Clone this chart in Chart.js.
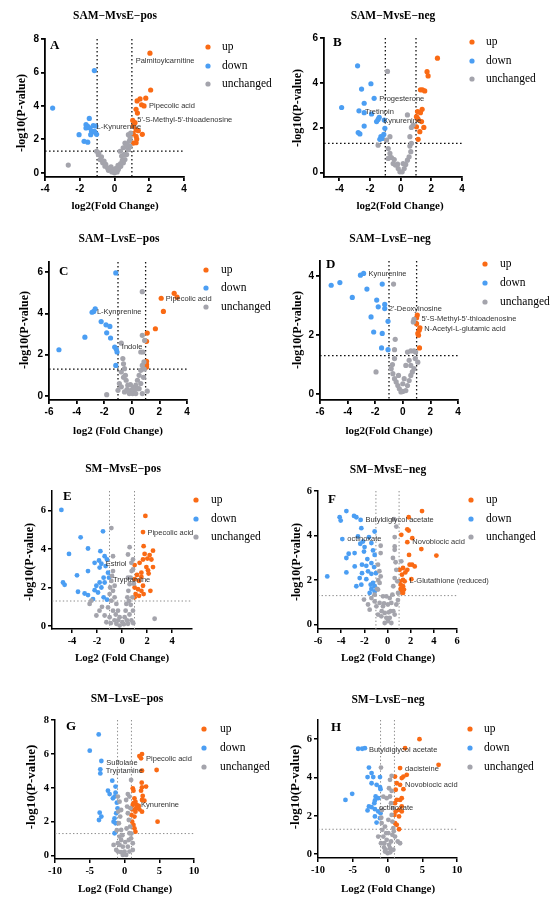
<!DOCTYPE html>
<html>
<head>
<meta charset="utf-8">
<script src="https://cdn.jsdelivr.net/npm/chart.js@4.4.1/dist/chart.umd.min.js"></script>
<style>
html, body { margin: 0; padding: 0; background: #fff; }
#wrap { position: relative; width: 550px; height: 905px; overflow: hidden; }
#wrap canvas { position: absolute; }
</style>
</head>
<body>
<div id="wrap"></div>
<script>
'use strict';

// ---- data: [log2 fold change, -log10 p] pairs ----
const A_UP = [[2.04,7.15],[2.08,4.95],[1.8,4.46],[1.47,4.42],[1.3,4.3],[1.56,4.07],[1.7,4.0],[1.24,3.8],[1.32,3.57],[1.05,3.13],[1.18,3.0],[1.08,2.8],[1.24,2.58],[1.37,2.52],[1.08,2.34],[1.24,2.18],[1.6,2.3],[1.28,2.02],[1.08,1.78],[1.24,1.8]];
const A_DOWN = [[-1.16,6.11],[-3.56,3.87],[-1.45,3.25],[-1.64,2.88],[-1.54,2.78],[-1.64,2.68],[-1.41,2.68],[-1.22,2.82],[-1.07,2.8],[-1.32,2.48],[-1.16,2.48],[-1.37,2.28],[-2.04,2.28],[-1.75,1.88],[-1.54,1.83],[-1.03,2.3],[-1.12,2.42]];
const A_NC = [[-2.66,0.46],[-1.03,1.29],[-0.93,1.09],[-0.83,0.79],[-0.68,0.6],[-0.55,0.4],[-0.41,0.3],[-0.26,0.2],[-0.07,0.1],[0.09,0.1],[0.22,0.2],[0.36,0.4],[0.51,0.6],[0.6,0.79],[0.7,1.09],[0.8,1.39],[0.89,1.59],[0.6,1.78],[0.8,2.28],[0.93,2.38],[0.5,1.5],[0.32,1.29],[0.41,1.0],[-0.35,0.15],[-0.15,0.05],[0.0,0.0],[0.15,0.05],[0.28,0.35],[-0.5,0.5],[-0.6,0.7],[0.45,0.75],[0.55,1.1],[0.65,1.55],[0.72,1.7],[0.85,1.9],[0.9,2.1],[-0.2,0.35],[0.05,0.25],[-0.75,0.95],[-0.9,1.2],[0.35,0.55],[0.2,0.45]];
const A_LABELS = [['Palmitoylcarnitine',1.22,6.7],['Pipecolic acid',1.99,3.97],["5'-S-Methyl-5'-thioadenosine",1.31,3.17],['L-Kynurenine',-1.03,2.72]];
const A_XTICKS = [-4,-2,0,2,4];
const A_YTICKS = [0,2,4,6,8];

const B_UP = [[2.4,5.1],[1.72,4.5],[1.79,4.31],[1.29,3.69],[1.42,3.69],[1.57,3.64],[1.1,2.72],[1.4,2.82],[1.29,2.67],[1.03,2.49],[1.14,2.37],[1.36,2.27],[1.03,2.04],[1.51,2.01],[1.25,1.82],[1.14,1.48],[1.1,2.42]];
const B_DOWN = [[-2.81,4.76],[-1.94,3.96],[-2.55,3.72],[-1.73,3.31],[-2.38,3.09],[-3.85,2.9],[-2.72,2.75],[-2.38,2.67],[-1.9,2.61],[-1.4,2.46],[-1.47,2.37],[-1.57,2.27],[-1.07,2.34],[-1.03,1.97],[-2.38,2.07],[-2.77,1.78],[-2.66,1.72],[-1.29,1.6],[-1.2,1.52],[-1.36,1.48],[-1.1,1.7]];
const B_NC = [[-0.86,4.51],[0.44,2.57],[-1.47,1.22],[-0.81,1.07],[-0.7,0.85],[-0.6,0.67],[-0.81,0.63],[-0.49,0.4],[-0.34,0.33],[-0.16,0.18],[-0.05,0.03],[0.1,0.03],[0.23,0.18],[0.33,0.36],[0.16,0.4],[0.44,0.55],[0.55,0.7],[0.66,0.93],[0.6,1.18],[0.7,1.3],[0.6,1.6],[0.7,2.01],[0.81,2.12],[-0.2,0.37],[-0.42,0.58],[-0.92,1.45],[-0.7,1.6]];
const B_LABELS = [['Progesterone',-1.4,3.28],['Tretinoin',-2.33,2.7],['Kynurenine',-1.14,2.31]];
const B_XTICKS = [-4,-2,0,2,4];
const B_YTICKS = [0,2,4,6];

const C_UP = [[3.07,4.98],[3.28,4.79],[2.13,4.74],[2.29,4.1],[1.71,3.26],[1.12,3.05],[1.07,2.65],[1.07,1.68],[1.07,1.52],[1.07,1.4]];
const C_DOWN = [[-1.16,5.97],[-2.65,4.23],[-2.76,4.1],[-2.88,4.06],[-2.22,3.61],[-1.87,3.45],[-1.59,3.37],[-1.82,3.06],[-3.4,2.85],[-1.54,2.81],[-5.28,2.24],[-1.24,2.37],[-1.12,2.26],[-1.07,2.13],[-1.16,1.48]];
const C_NC = [[0.76,5.06],[0.76,2.94],[0.93,2.69],[0.65,2.13],[0.81,2.13],[-0.76,2.56],[-1.82,0.06],[-0.65,1.81],[-0.6,1.56],[-0.53,1.32],[-0.76,1.16],[-0.46,1.0],[-0.41,0.76],[-1.0,0.27],[-0.29,0.52],[-0.06,0.27],[0.18,0.27],[0.29,0.52],[0.41,0.76],[0.53,1.0],[0.65,1.24],[0.76,1.48],[0.88,1.65],[1.12,0.23],[-0.18,0.11],[0.06,0.11],[0.29,0.11],[-0.53,0.19],[-0.76,0.44],[0.53,0.35],[0.76,0.11],[-0.9,0.6],[-0.35,0.3],[0.4,0.35],[0.65,0.6],[0.85,0.9],[0.9,1.3],[-0.6,0.9],[0.1,0.4],[-0.1,0.55]];
const C_LABELS = [['Pipecolic acid',2.46,4.73],['L-Kynurenine',-2.53,4.06],['Indole',-0.72,2.37]];
const C_XTICKS = [-6,-4,-2,0,2,4];
const C_YTICKS = [0,2,4,6];

const D_UP = [[1.05,2.67],[1.0,2.58],[1.0,2.38],[1.24,2.24],[1.19,2.16],[1.09,2.05],[1.14,1.99],[1.21,1.56]];
const D_DOWN = [[-2.84,4.08],[-3.07,4.02],[-5.19,3.68],[-4.56,3.77],[-1.49,3.72],[-3.66,3.27],[-2.6,3.55],[-1.89,3.18],[-1.31,3.03],[-1.78,2.95],[-1.31,2.89],[-2.3,2.61],[-1.07,2.46],[-2.11,2.1],[-1.49,2.05],[-1.54,1.56],[-1.07,1.5]];
const D_NC = [[-0.67,3.72],[0.81,2.53],[0.76,2.44],[-0.55,1.85],[-1.94,0.75],[-0.6,1.5],[-0.6,1.2],[0.34,1.42],[0.58,1.46],[0.81,1.46],[0.93,1.42],[1.09,1.08],[0.46,1.14],[0.22,0.97],[-0.84,0.86],[-0.72,0.69],[-0.6,0.52],[-0.48,0.41],[-0.36,0.29],[-0.25,0.18],[0,0.09],[0.22,0.12],[0.34,0.29],[0.46,0.46],[0.58,0.63],[0.69,0.75],[0.81,0.86],[0.1,0.52],[-0.31,0.63],[0.58,0.97],[0,0.35],[-0.13,0.07],[0.9,1.2],[-0.75,1.0]];
const D_LABELS = [['Kynurenine',-2.48,4.06],["2'-Deoxyinosine",-1.02,2.87],["5'-S-Methyl-5'-thioadenosine",1.35,2.55],['N-Acetyl-L-glutamic acid',1.56,2.19]];
const D_XTICKS = [-6,-4,-2,0,2,4];
const D_YTICKS = [0,2,4];

const E_UP = [[1.87,5.71],[1.68,4.87],[1.73,4.14],[2.48,3.91],[1.81,3.74],[2.21,3.68],[2.35,3.45],[2.03,3.5],[1.68,3.45],[1.41,3.28],[1.01,3.16],[2.48,3.06],[1.95,3.06],[2.08,2.89],[1.55,2.77],[2.13,2.72],[1.2,2.65],[1.55,2.55],[1.01,2.43],[1.36,2.34],[1.68,2.09],[1.01,2.0],[1.28,1.91],[1.55,1.83],[2.27,1.83],[1.09,1.66],[1.73,1.66],[1.01,1.49],[1.36,1.57]];
const E_DOWN = [[-4.85,6.02],[-1.52,4.91],[-3.31,4.6],[-2.72,4.02],[-4.24,3.74],[-1.73,3.88],[-1.39,3.62],[-1.2,3.45],[-1.84,3.4],[-2.19,3.28],[-1.65,3.23],[-1.31,3.11],[-1.79,3.03],[-2.72,2.85],[-3.6,2.63],[-1.12,2.77],[-1.47,2.51],[-1.04,2.51],[-1.79,2.26],[-1.39,2.26],[-4.72,2.26],[-4.59,2.14],[-2.05,2.09],[-1.65,2.0],[-2.19,1.86],[-1.92,1.74],[-3.52,1.78],[-2.99,1.69],[-2.72,1.61],[-1.47,1.49],[-1.2,1.37],[-2.32,1.4]];
const E_NC = [[-0.85,5.08],[0.61,4.09],[-0.72,3.62],[0.48,3.71],[0.75,3.28],[0.88,3.45],[2.61,0.38],[-2.05,0.55],[-2.59,1.15],[-2.45,1.32],[-1.39,0.55],[-1.25,0.2],[-0.72,2.85],[-0.85,2.34],[-0.72,1.83],[-0.59,1.49],[-0.45,1.15],[-0.32,0.8],[-0.19,0.46],[0.03,0.2],[0.21,0.46],[0.29,0.8],[0.35,1.15],[0.43,1.49],[0.51,1.83],[0.61,2.17],[0.69,2.51],[0.77,2.85],[0.88,2.94],[0.83,1.49],[0.88,0.8],[0.75,0.29],[-0.72,0.8],[-0.85,1.32],[-0.99,0.46],[-0.45,0.12],[0.48,0.12],[-0.19,0.03],[-1.12,0.97],[-0.59,2.09],[0.48,2.51],[-0.99,1.66],[-0.6,0.3],[0.15,0.1],[0.6,0.6],[0.7,1.1],[-0.3,0.3],[0.4,0.3],[-0.9,0.15],[0.9,0.15],[-0.5,0.6],[0.55,1.3],[-0.95,2.0],[-0.8,2.6],[0.95,2.2],[-1.6,1.0],[-1.8,0.8]];
const E_LABELS = [['Pipecolic acid',2.03,4.84],['Estriol',-1.31,3.23],['Tryptamine',-0.72,2.39]];
const E_XTICKS = [-4,-2,0,2,4];
const E_YTICKS = [0,2,4,6];

const F_UP = [[2.98,5.1],[1.83,4.82],[1.71,4.28],[1.83,4.22],[1.19,4.03],[2.14,3.88],[1.71,3.7],[2.92,3.39],[4.22,3.1],[1.86,3.13],[1.91,2.69],[2.12,2.69],[2.35,2.61],[1.34,2.54],[1.71,2.46],[1.05,2.46],[1.54,2.34],[1.25,2.24],[1.34,2.01],[1.05,1.94],[1.48,1.94],[2.06,2.04],[1.14,1.79],[1.34,1.72],[1.14,1.6],[1.42,1.57],[1.14,1.45],[1.34,1.42]];
const F_DOWN = [[-3.55,5.1],[-4.13,4.82],[-4.04,4.67],[-2.89,4.88],[-2.69,4.82],[-2.32,4.7],[-2.26,4.33],[-1.11,4.18],[-2.55,3.96],[-3.9,3.84],[-1.6,3.93],[-2.12,3.73],[-2.35,3.63],[-1.39,3.66],[-1.98,3.48],[-2.84,3.21],[-3.35,3.18],[-2.03,3.28],[-1.25,3.33],[-1.11,3.13],[-3.55,2.99],[-1.74,2.94],[-2.83,2.61],[-2.2,2.69],[-1.39,2.76],[-1.83,2.64],[-1.16,2.58],[-3.55,2.34],[-2.2,2.31],[-1.68,2.39],[-1.39,2.28],[-1.0,2.31],[-5.2,2.16],[-2.4,2.09],[-1.83,2.04],[-1.25,1.87],[-1.45,1.79],[-2.69,1.72],[-2.26,1.79],[-1.11,1.72],[-1.39,1.6],[-1.54,1.42],[-1.11,1.49]];
const F_NC = [[0.56,4.73],[0.76,4.4],[0.62,3.93],[-0.59,3.54],[0.62,3.51],[0.62,3.36],[-0.59,3.21],[0.47,2.99],[-0.82,2.69],[-2.03,1.12],[-1.68,0.9],[-1.54,0.67],[-0.82,0.45],[-1.39,1.19],[-1.11,1.34],[-0.82,1.57],[-0.68,1.87],[-0.59,2.16],[-0.39,1.27],[-0.39,0.82],[-0.24,0.52],[-0.1,0.3],[0.04,0.15],[0.19,0.3],[0.27,0.6],[0.33,0.97],[0.42,1.34],[0.5,1.72],[0.62,2.09],[0.76,2.46],[0.85,1.94],[0.91,1.42],[0.76,0.9],[0.62,0.45],[0.33,0.07],[-0.24,0.07],[-0.53,0.37],[-0.68,0.97],[-0.96,0.82],[-1.11,1.04],[-0.1,1.27],[0.04,0.9],[0.19,1.19],[1.19,2.84],[-0.5,0.6],[0.5,0.6],[-0.8,2.0],[0.7,2.8],[-0.7,2.4],[0.9,1.1],[-0.9,1.6],[0.1,0.55],[-0.3,0.95]];
const F_LABELS = [['Butyldiglycol acetate',-1.91,4.7],['octinoxate',-3.47,3.84],['Novobiocic acid',2.14,3.69],['L-Glutathione (reduced)',1.91,1.97]];
const F_XTICKS = [-6,-4,-2,0,2,4,6];
const F_YTICKS = [0,2,4,6];

const G_UP = [[2.52,5.99],[2.14,5.87],[2.38,5.74],[4.62,5.05],[2.52,5.01],[2.48,4.3],[3.1,4.07],[2.52,4.03],[1.19,3.97],[1.29,3.83],[2.38,3.83],[2.62,3.52],[1.43,3.38],[2.52,3.28],[2.86,3.24],[1.57,3.18],[1.19,2.99],[1.76,2.99],[2.05,2.93],[1.67,2.79],[2.14,2.73],[1.1,2.73],[2.52,2.59],[1.57,2.59],[1.0,2.4],[1.43,2.3],[4.76,2.0],[1.1,2.0],[1.29,1.81],[1.43,1.61],[1.57,1.41],[1.9,2.85],[1.3,3.1]];
const G_DOWN = [[-3.71,7.15],[-5.0,6.19],[-3.33,5.58],[-3.48,5.09],[-3.48,4.85],[-1.76,4.42],[-1.29,4.07],[-2.38,3.83],[-2.14,3.63],[-1.43,3.48],[-1.29,3.71],[-1.67,3.38],[-1.1,3.12],[-1.0,2.79],[-3.57,2.53],[-1.19,2.5],[-3.33,2.3],[-3.67,2.1],[-1.43,2.2],[-1.57,2.0],[-1.29,1.91],[-1.43,1.32]];
const G_NC = [[0.95,4.46],[0.48,3.63],[0.71,3.48],[-0.95,3.48],[-0.71,3.18],[-0.48,2.69],[-0.62,2.3],[-0.81,1.91],[-0.48,1.51],[-0.71,1.12],[-0.95,0.73],[-1.19,0.33],[-0.48,0.92],[-0.24,0.53],[0,0.24],[0.24,0.04],[0.48,0.53],[0.62,0.92],[0.71,1.32],[0.81,1.71],[0.62,2.1],[0.48,2.5],[0.38,2.89],[0.24,3.28],[0.95,1.02],[1.19,0.73],[-0.95,0.24],[-0.24,0.04],[-1.57,0.63],[1.19,0.33],[-0.71,0.63],[0.71,0.24],[-0.3,1.2],[0.3,1.6],[-0.9,2.6],[0.85,2.8],[-1.1,1.5],[1.0,1.3],[0.1,0.8],[-0.5,0.2]];
const G_LABELS = [['Sulfolane',-2.62,5.48],['Tryptamine',-2.71,5.01],['Pipecolic acid',3.1,5.7],['Kynurenine',2.38,2.99]];
const G_XTICKS = [-10,-5,0,5,10];
const G_YTICKS = [0,2,4,6,8];

const H_UP = [[4.6,6.0],[2.53,5.53],[7.35,4.66],[1.81,4.49],[2.77,4.14],[2.29,4.05],[2.05,3.97],[1.08,4.05],[1.33,3.7],[1.81,3.62],[2.29,3.39],[1.18,3.36],[2.05,2.92],[1.81,2.83],[1.33,2.83],[1.08,2.66],[2.05,2.49],[1.66,2.31],[1.18,2.23],[2.05,2.23],[1.0,2.05],[1.66,1.97],[1.08,1.62],[1.33,1.53],[1.66,1.3]];
const H_DOWN = [[-4.22,5.5],[-3.64,5.5],[-3.25,5.53],[-2.67,4.52],[-2.29,4.23],[-2.87,4.02],[-2.05,4.02],[-1.08,4.02],[-2.29,3.7],[-1.57,3.62],[-1.08,3.5],[-1.0,3.39],[-5.08,3.15],[-6.05,2.83],[-1.71,3.01],[-1.81,2.8],[-1.33,2.92],[-1.9,2.66],[-2.67,2.49],[-2.29,2.45],[-2.87,2.28],[-1.81,2.35],[-1.33,2.23],[-1.0,2.14],[-1.81,1.97],[-1.08,1.88],[-1.57,1.65]];
const H_NC = [[-0.94,4.52],[0.36,3.88],[0.6,4.09],[0.22,3.44],[0.36,3.01],[0.51,2.66],[-0.12,2.92],[-0.84,1.62],[-0.75,1.27],[-0.6,0.92],[-0.46,0.57],[-0.27,0.23],[0.02,0.05],[0.36,0.31],[0.51,0.66],[0.7,1.01],[0.84,1.36],[0.7,1.7],[0.6,2.05],[0.12,1.79],[-0.36,1.44],[-0.12,0.75],[0.22,0.49],[1.47,0.66],[1.81,0.57],[-0.94,0.57],[-1.33,0.92],[0.12,1.1],[-0.36,0.14],[0.84,0.23],[1.08,0.92],[-0.8,2.3],[0.8,2.4],[-0.6,3.0],[0.6,3.3],[-0.9,1.9],[0.9,1.2],[-0.5,0.35],[0.4,0.1],[-0.2,1.1]];
const H_LABELS = [['Butyldiglycol acetate',-2.67,5.44],['dacisteine',2.53,4.47],['Novobiocic acid',2.53,3.63],['octinoxate',-1.23,2.4]];
const H_XTICKS = [-10,-5,0,5,10];
const H_YTICKS = [0,2,4,6];

const SERIES_NAMES = ['up', 'down', 'unchanged'];
const FC_CUT = 1;          // |log2 FC| threshold
const P_CUT = 1.3;         // -log10(0.05)

// ---- look ----
const COLORS = { up: '#FA6A14', down: '#4B9EF3', nc: '#A4A4AC' };
const SANS = "'Liberation Sans', Arial, sans-serif";
const SERIF = "'Liberation Serif', 'Times New Roman', serif";
const Y_AXIS_W = 24;
const X_AXIS_H = 22;

// page layout for each panel (pixels in the 550x905 page)
const PANELS = [
    { letter: 'A', title: 'SAM\u2212MvsE\u2212pos', up: A_UP, down: A_DOWN, nc: A_NC, labels: A_LABELS, xt: A_XTICKS, yt: A_YTICKS,
      xr: [-4, 4], yr: [-0.25, 8], style: 'old',
      box: { x: 0, y: 0, w: 275, h: 215 }, plot: { l: 45, r: 184, t: 39, b: 177 },
      titlePos: [115, 16], letterPos: [54, 46], legend: { mx: 208, tx: 222, ys: [47, 66, 84] },
      xTitle: ['log2(Fold Change)', 115, 206], yTitle: [22, 113, 12] },
    { letter: 'B', title: 'SAM\u2212MvsE\u2212neg', up: B_UP, down: B_DOWN, nc: B_NC, labels: B_LABELS, xt: B_XTICKS, yt: B_YTICKS,
      xr: [-5, 4], yr: [-0.2, 6], style: 'old',
      box: { x: 275, y: 0, w: 275, h: 215 }, plot: { l: 324, r: 462, t: 38, b: 177 },
      titlePos: [393, 16], letterPos: [337, 43], legend: { mx: 472, tx: 486, ys: [42, 61, 79] },
      xTitle: ['log2(Fold Change)', 400, 206], yTitle: [298, 108, 12] },
    { letter: 'C', title: 'SAM\u2212LvsE\u2212pos', up: C_UP, down: C_DOWN, nc: C_NC, labels: C_LABELS, xt: C_XTICKS, yt: C_YTICKS,
      xr: [-6, 4], yr: [-0.2, 6.5], style: 'old',
      box: { x: 0, y: 215, w: 275, h: 230 }, plot: { l: 49, r: 187, t: 262, b: 400 },
      titlePos: [119, 239], letterPos: [63, 272], legend: { mx: 206, tx: 221, ys: [270, 288, 307] },
      xTitle: ['log2 (Fold Change)', 118, 431], yTitle: [25, 330, 12] },
    { letter: 'D', title: 'SAM\u2212LvsE\u2212neg', up: D_UP, down: D_DOWN, nc: D_NC, labels: D_LABELS, xt: D_XTICKS, yt: D_YTICKS,
      xr: [-6, 4], yr: [-0.2, 4.5], style: 'old',
      box: { x: 275, y: 215, w: 275, h: 230 }, plot: { l: 320, r: 458, t: 261, b: 400 },
      titlePos: [390, 239], letterPos: [330, 265], legend: { mx: 485, tx: 500, ys: [264, 283, 302] },
      xTitle: ['log2(Fold Change)', 389, 431], yTitle: [298, 330, 12] },
    { letter: 'E', title: 'SM\u2212MvsE\u2212pos', up: E_UP, down: E_DOWN, nc: E_NC, labels: E_LABELS, xt: E_XTICKS, yt: E_YTICKS,
      xr: [-5.6, 5.6], yr: [-0.15, 7], style: 'new',
      box: { x: 0, y: 445, w: 275, h: 230 }, plot: { l: 52, r: 192, t: 491, b: 629 },
      titlePos: [123, 469], letterPos: [67, 497], legend: { mx: 196, tx: 211, ys: [500, 519, 537] },
      xTitle: ['Log2 (Fold Change)', 122, 658], yTitle: [30, 562, 12] },
    { letter: 'F', title: 'SM\u2212MvsE\u2212neg', up: F_UP, down: F_DOWN, nc: F_NC, labels: F_LABELS, xt: F_XTICKS, yt: F_YTICKS,
      xr: [-6, 6], yr: [-0.2, 6], style: 'new',
      box: { x: 275, y: 445, w: 275, h: 230 }, plot: { l: 318, r: 457, t: 491, b: 629 },
      titlePos: [388, 470], letterPos: [332, 500], legend: { mx: 471, tx: 486, ys: [500, 519, 537] },
      xTitle: ['Log2 (Fold Change)', 388, 658], yTitle: [297, 562, 12] },
    { letter: 'G', title: 'SM\u2212LvsE\u2212pos', up: G_UP, down: G_DOWN, nc: G_NC, labels: G_LABELS, xt: G_XTICKS, yt: G_YTICKS,
      xr: [-10, 10], yr: [-0.2, 8], style: 'new',
      box: { x: 0, y: 675, w: 275, h: 230 }, plot: { l: 55, r: 194, t: 720, b: 859 },
      titlePos: [127, 699], letterPos: [70, 727], legend: { mx: 204, tx: 220, ys: [729, 748, 767] },
      xTitle: ['Log2 (Fold Change)', 125, 889], yTitle: [32, 787, 13] },
    { letter: 'H', title: 'SM\u2212LvsE\u2212neg', up: H_UP, down: H_DOWN, nc: H_NC, labels: H_LABELS, xt: H_XTICKS, yt: H_YTICKS,
      xr: [-10, 10], yr: [-0.2, 7], style: 'new',
      box: { x: 275, y: 675, w: 275, h: 230 }, plot: { l: 318, r: 457, t: 720, b: 858 },
      titlePos: [388, 700], letterPos: [335, 728], legend: { mx: 470, tx: 484, ys: [729, 748, 767] },
      xTitle: ['Log2 (Fold Change)', 388, 889], yTitle: [296, 787, 13] },
];

function toPoints(pairs) {
    return pairs.map(p => ({ x: p[0], y: p[1] }));
}

// threshold lines, labels, titles and the legend
const volcanoDecor = {
    id: 'volcanoDecor',
    beforeDatasetsDraw(chart) {
        const panel = chart.$panel;
        const xs = chart.scales.x, ys = chart.scales.y, area = chart.chartArea;
        const ctx = chart.ctx;
        ctx.save();
        ctx.beginPath();
        ctx.rect(area.left, area.top, area.right - area.left, area.bottom - area.top);
        ctx.clip();
        if (panel.style === 'old') {
            ctx.strokeStyle = '#111';
            ctx.lineWidth = 1.3;
            ctx.setLineDash([1.6, 2.4]);
        } else {
            ctx.strokeStyle = '#8c8c8c';
            ctx.lineWidth = 1;
            ctx.setLineDash([1.4, 2.2]);
        }
        ctx.beginPath();
        [-FC_CUT, FC_CUT].forEach(v => {
            const px = xs.getPixelForValue(v);
            ctx.moveTo(px, area.top);
            ctx.lineTo(px, area.bottom);
        });
        const py = ys.getPixelForValue(P_CUT);
        ctx.moveTo(area.left, py);
        ctx.lineTo(area.right, py);
        ctx.stroke();
        ctx.restore();
    },
    afterDraw(chart) {
        const panel = chart.$panel;
        const ox = panel.box.x, oy = panel.box.y;
        const xs = chart.scales.x, ys = chart.scales.y;
        const ctx = chart.ctx;
        ctx.save();

        // point labels
        ctx.font = '7.5px ' + SANS;
        ctx.fillStyle = '#333';
        ctx.textAlign = 'left';
        ctx.textBaseline = 'middle';
        panel.labels.forEach(([text, x, y]) => {
            ctx.fillText(text, xs.getPixelForValue(x), ys.getPixelForValue(y));
        });

        // title
        ctx.fillStyle = '#000';
        ctx.textAlign = 'center';
        ctx.font = 'bold 11.5px ' + SERIF;
        ctx.fillText(panel.title, panel.titlePos[0] - ox, panel.titlePos[1] - oy);

        // panel letter
        ctx.font = 'bold 13px ' + SERIF;
        ctx.textAlign = 'left';
        ctx.fillText(panel.letter, panel.letterPos[0] - ox - 4, panel.letterPos[1] - oy);

        // legend
        const colors = [COLORS.up, COLORS.down, COLORS.nc];
        ctx.font = '11.5px ' + SERIF;
        SERIES_NAMES.forEach((name, i) => {
            const y = panel.legend.ys[i] - oy;
            ctx.fillStyle = colors[i];
            ctx.beginPath();
            ctx.arc(panel.legend.mx - ox, y, 2.6, 0, Math.PI * 2);
            ctx.fill();
            ctx.fillStyle = '#000';
            ctx.fillText(name, panel.legend.tx - ox, y);
        });

        // axis titles
        ctx.textAlign = 'center';
        ctx.font = 'bold 11px ' + SERIF;
        ctx.fillText(panel.xTitle[0], panel.xTitle[1] - ox, panel.xTitle[2] - oy);
        ctx.translate(panel.yTitle[0] - ox, panel.yTitle[1] - oy);
        ctx.rotate(-Math.PI / 2);
        ctx.font = 'bold ' + panel.yTitle[2] + 'px ' + SERIF;
        ctx.fillText('-log10(P-value)', 0, 0);
        ctx.restore();
    }
};

function buildChart(panel) {
    const wrap = document.getElementById('wrap');
    const canvas = document.createElement('canvas');
    const b = panel.box;
    canvas.width = b.w;
    canvas.height = b.h;
    canvas.style.left = b.x + 'px';
    canvas.style.top = b.y + 'px';
    canvas.style.width = b.w + 'px';
    canvas.style.height = b.h + 'px';
    wrap.appendChild(canvas);

    const old = panel.style === 'old';
    const tickFont = old
        ? { family: SANS, size: 10, weight: 'bold' }
        : { family: SERIF, size: 10.5, weight: 'bold' };
    const axisWidth = old ? 1.8 : 1.5;
    const radius = old ? 2.6 : 2.4;

    const padding = {
        left: panel.plot.l - b.x - Y_AXIS_W,
        top: panel.plot.t - b.y,
        right: b.x + b.w - panel.plot.r,
        bottom: b.y + b.h - panel.plot.b - X_AXIS_H,
    };

    const axis = (ticks, fitKey, fitVal, range) => ({
        type: 'linear',
        min: range[0],
        max: range[1],
        afterBuildTicks: s => { s.ticks = ticks.map(v => ({ value: v })); },
        afterFit: s => { s[fitKey] = fitVal; },
        grid: { drawOnChartArea: false, drawTicks: true, tickLength: 4, color: '#000', lineWidth: axisWidth },
        border: { display: true, color: '#000', width: axisWidth },
        ticks: {
            color: '#000',
            font: tickFont,
            padding: 2,
            autoSkip: false,
            maxRotation: 0,
            callback: v => String(v),
        },
    });

    const ds = (label, pairs, color) => ({
        label,
        data: toPoints(pairs),
        backgroundColor: color,
        borderWidth: 0,
        pointRadius: radius,
        pointHoverRadius: radius,
        clip: false,
    });

    return new Chart(canvas.getContext('2d'), {
        type: 'scatter',
        data: {
            datasets: [
                ds('unchanged', panel.nc, COLORS.nc),
                ds('down', panel.down, COLORS.down),
                ds('up', panel.up, COLORS.up),
            ]
        },
        options: {
            responsive: false,
            animation: false,
            events: [],
            layout: { padding },
            plugins: { legend: { display: false }, tooltip: { enabled: false } },
            scales: {
                x: axis(panel.xt, 'height', X_AXIS_H, panel.xr),
                y: axis(panel.yt, 'width', Y_AXIS_W, panel.yr),
            }
        },
        plugins: [{
            id: 'panelRef',
            beforeInit(c) { c.$panel = panel; }
        }, volcanoDecor]
    });
}

PANELS.forEach(buildChart);
</script>
</body>
</html>
